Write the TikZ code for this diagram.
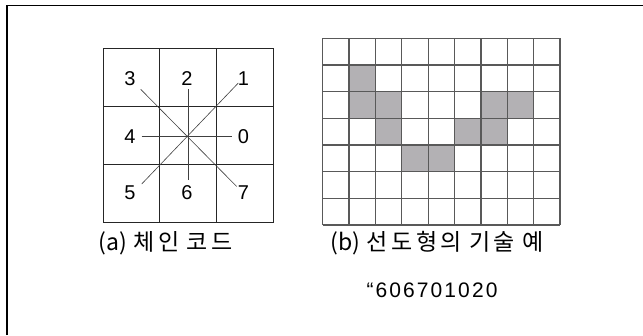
\documentclass[tikz,border=0pt]{standalone}
\usepackage{fontspec}
\setmainfont{Liberation Sans}
\newfontfamily\krfont[LetterSpace=16]{Noto Sans CJK KR}
\newfontfamily\krplain{Noto Sans CJK KR}
\newfontfamily\codefont[LetterSpace=10]{Liberation Sans}
\begin{document}
\begin{tikzpicture}[x=1pt,y=-1pt,
  cellline/.style={line width=0.9pt,black!85},
  gridline/.style={line width=1.3pt,black!65},
  ray/.style={line width=0.6pt,black!75},
  digit/.style={font=\fontsize{20}{20}\selectfont,inner sep=0pt},
  caption/.style={font=\fontsize{23}{23}\selectfont,inner sep=0pt}]
\useasboundingbox (0,0) rectangle (643,335);
\fill[white] (0,0) rectangle (643,335);
% frame (top and left only)
\draw[line width=1.2pt] (7,335) -- (7,5.5) -- (643,5.5);
% left grid
\foreach \i in {0,1,2,3}{
  \draw[cellline] (103+\i*56.67,48) -- (103+\i*56.67,222.6);
  \draw[cellline] (103,48+\i*58.2) -- (273,48+\i*58.2);
}
% digits
\node[digit] (d3) at (130,79) {3};
\node[digit] (d2) at (187,79) {2};
\node[digit] (d1) at (243.5,79) {1};
\node[digit] (d4) at (130,137) {4};
\node[digit] (d0) at (243.5,137) {0};
\node[digit] (d5) at (130,193) {5};
\node[digit] (d6) at (187,193) {6};
\node[digit] (d7) at (243.5,193) {7};
% rays
\coordinate (c) at (188.3,136.7);
\coordinate (e0) at (231.5,136.7);
\coordinate (e4) at (141.7,136.7);
\coordinate (e2) at (188.3,89.3);
\coordinate (e6) at (188.3,180);
\coordinate (e3) at (140.7,89.3);
\coordinate (e7) at (236.7,186.5);
\coordinate (e1) at (238.3,83);
\coordinate (e5) at (141.7,184);
\draw[ray] (e4) -- (e0);
\draw[ray] (e2) -- (e6);
\draw[ray] (e3) -- (e7);
\draw[ray] (e1) -- (e5);
% right grid shading
\def\cw{26.37}\def\ch{26.67}
\foreach \c/\r in {1/1,1/2,2/2,6/2,7/2,2/3,5/3,6/3,3/4,4/4}{
  \fill[fill={rgb,255:red,179;green,177;blue,180}] (322.7+\c*\cw,38.3+\r*\ch) rectangle ++(\cw,\ch);
}
\foreach \i in {0,...,9}{\draw[gridline] (322.7+\i*\cw,38.3) -- (322.7+\i*\cw,225);}
\foreach \j in {0,...,7}{\draw[gridline] (322.7,38.3+\j*\ch) -- (560,38.3+\j*\ch);}
% captions
\node[caption] (ca) at (165.5,243) {{\krplain (a)}\hspace{6pt}{\krfont 체인}\hspace{7pt}{\krfont 코드}};
\node[caption] (cb) at (437,243) {{\krplain (b)}\hspace{6pt}{\krfont 선도형의}\hspace{7pt}{\krfont 기술}\hspace{7pt}{\krfont 예}};
\node[inner sep=0pt,font=\codefont\fontsize{21}{21}\selectfont] (code) at (432,290) {“606701020};
\end{tikzpicture}
\end{document}
